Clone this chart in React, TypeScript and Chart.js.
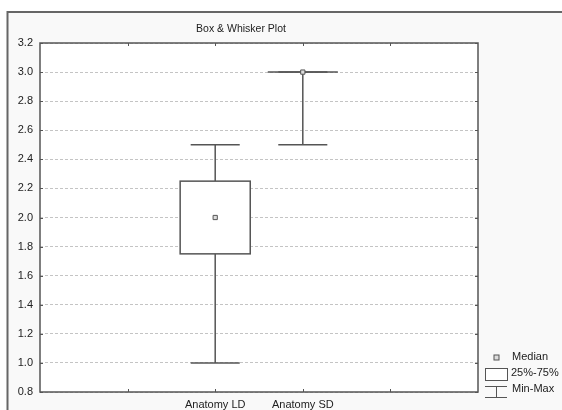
import React, { useEffect, useRef } from "react";
import { Chart, registerables } from "chart.js";

Chart.register(...registerables);

const categories = ["Anatomy LD", "Anatomy SD"];
const minValues = [1.0, 2.5];
const q1Values = [1.75, 3.0];
const medianValues = [2.0, 3.0];
const q3Values = [2.25, 3.0];
const maxValues = [2.5, 3.0];
const yTicks = [0.8, 1.0, 1.2, 1.4, 1.6, 1.8, 2.0, 2.2, 2.4, 2.6, 2.8, 3.0, 3.2];
const legendLabels = ["Median", "25%-75%", "Min-Max"];
const titleText = "Box & Whisker Plot";
const X_OFFSET = 2; // categories sit at x = 2, 3 on a 0..5 axis

const FONT = "'Liberation Sans', Arial, sans-serif";
const LINE = "#555";

const boxPlugin = {
  id: "boxPlugin",
  beforeDraw(chart: any) {
    const { ctx, chartArea: a, width, height } = chart;
    ctx.save();
    ctx.fillStyle = "#ffffff";
    ctx.fillRect(0, 0, width, height);
    ctx.fillStyle = "#f9f9f9";
    ctx.fillRect(8, 12, width - 8, height - 12);
    ctx.strokeStyle = "#666";
    ctx.lineWidth = 2;
    ctx.beginPath();
    ctx.moveTo(width + 2, 12);
    ctx.lineTo(7.5, 12);
    ctx.lineTo(7.5, height + 2);
    ctx.stroke();
    ctx.fillStyle = "#ffffff";
    ctx.fillRect(a.left, a.top, a.right - a.left, a.bottom - a.top);
    ctx.restore();
  },
  beforeDatasetsDraw(chart: any) {
    const { ctx } = chart;
    const xs = chart.scales.x;
    const ys = chart.scales.y;
    const unit = xs.getPixelForValue(1) - xs.getPixelForValue(0);
    const boxW = unit * 0.8;
    const capW = unit * 0.56;
    ctx.save();
    ctx.strokeStyle = LINE;
    ctx.lineWidth = 1.5;
    categories.forEach((_, i) => {
      const cx = xs.getPixelForValue(i + X_OFFSET);
      const yMin = ys.getPixelForValue(minValues[i]);
      const yMax = ys.getPixelForValue(maxValues[i]);
      const yQ1 = ys.getPixelForValue(q1Values[i]);
      const yQ3 = ys.getPixelForValue(q3Values[i]);
      ctx.beginPath();
      ctx.moveTo(cx, yMax);
      ctx.lineTo(cx, yQ3);
      ctx.moveTo(cx, yQ1);
      ctx.lineTo(cx, yMin);
      ctx.moveTo(cx - capW / 2, yMax);
      ctx.lineTo(cx + capW / 2, yMax);
      ctx.moveTo(cx - capW / 2, yMin);
      ctx.lineTo(cx + capW / 2, yMin);
      ctx.stroke();
      const top = Math.min(yQ1, yQ3);
      const h = Math.abs(yQ1 - yQ3);
      if (h > 0.5) {
        ctx.fillStyle = "#ffffff";
        ctx.fillRect(cx - boxW / 2, top, boxW, h);
        ctx.strokeRect(cx - boxW / 2, top, boxW, h);
      } else {
        ctx.beginPath();
        ctx.moveTo(cx - boxW / 2, top);
        ctx.lineTo(cx + boxW / 2, top);
        ctx.stroke();
      }
    });
    ctx.restore();
  },
  afterDraw(chart: any) {
    const { ctx, chartArea: a } = chart;
    const xs = chart.scales.x;
    const ys = chart.scales.y;
    ctx.save();
    ctx.strokeStyle = LINE;
    ctx.lineWidth = 1.5;
    ctx.strokeRect(a.left, a.top, a.right - a.left, a.bottom - a.top);
    ctx.lineWidth = 1;
    ctx.beginPath();
    for (let v = 1; v <= 4; v++) {
      const px = Math.round(xs.getPixelForValue(v)) + 0.5;
      ctx.moveTo(px, a.bottom);
      ctx.lineTo(px, a.bottom - 3);
      ctx.moveTo(px, a.top);
      ctx.lineTo(px, a.top + 3);
    }
    yTicks.forEach((t) => {
      const py = Math.round(ys.getPixelForValue(t)) + 0.5;
      ctx.moveTo(a.left, py);
      ctx.lineTo(a.left + 3, py);
      ctx.moveTo(a.right, py);
      ctx.lineTo(a.right - 3, py);
    });
    ctx.stroke();
    ctx.fillStyle = "#222";
    ctx.font = `10.5px ${FONT}`;
    ctx.textAlign = "center";
    ctx.textBaseline = "middle";
    ctx.fillText(titleText, 241, 29);
    ctx.textAlign = "left";
    ctx.font = `11px ${FONT}`;
    const lx = 496;
    ctx.strokeStyle = LINE;
    ctx.lineWidth = 1;
    ctx.fillStyle = "#ddd";
    ctx.fillRect(lx - 2, 357 - 2, 5, 5);
    ctx.strokeRect(lx - 2, 357 - 2, 5, 5);
    ctx.fillStyle = "#fff";
    ctx.fillRect(lx - 11, 368, 22, 12);
    ctx.strokeRect(lx - 11 + 0.5, 368.5, 22, 12);
    ctx.beginPath();
    ctx.moveTo(lx - 11, 386.5);
    ctx.lineTo(lx + 11, 386.5);
    ctx.moveTo(lx + 0.5, 386.5);
    ctx.lineTo(lx + 0.5, 397);
    ctx.moveTo(lx - 11, 397.5);
    ctx.lineTo(lx + 11, 397.5);
    ctx.stroke();
    ctx.fillStyle = "#222";
    ctx.textBaseline = "middle";
    ctx.fillText(legendLabels[0], 512, 357);
    ctx.fillText(legendLabels[1], 511, 373);
    ctx.fillText(legendLabels[2], 512, 389);
    ctx.restore();
  },
};

export default function App() {
  const ref = useRef<HTMLCanvasElement | null>(null);
  useEffect(() => {
    document.body.style.margin = "0";
    if (!ref.current) return;
    const chart = new Chart(ref.current, {
      type: "scatter",
      data: {
        datasets: [
          {
            label: "Median",
            data: medianValues.map((m, i) => ({ x: i + X_OFFSET, y: m })),
            pointStyle: "rect",
            pointRadius: 3,
            pointHoverRadius: 3,
            borderColor: LINE,
            backgroundColor: "#ddd",
            borderWidth: 1,
          },
        ],
      },
      options: {
        animation: false,
        responsive: false,
        devicePixelRatio: 1,
        layout: { padding: { top: 43, right: 84, left: 0, bottom: 0 } },
        plugins: {
          legend: { display: false },
          tooltip: { enabled: false },
          title: { display: false },
        },
        scales: {
          x: {
            type: "linear",
            min: 0,
            max: 5,
            afterFit: (s: any) => {
              s.height = 18;
            },
            afterBuildTicks: (s: any) => {
              s.ticks = [0, 1, 2, 3, 4, 5].map((v) => ({ value: v }));
            },
            ticks: {
              autoSkip: false,
              maxRotation: 0,
              padding: 6,
              color: "#222",
              font: { family: FONT, size: 11 },
              callback: (v: any) => {
                const idx = Number(v) - X_OFFSET;
                return categories[idx] ?? "";
              },
            },
            grid: { display: false, drawTicks: false },
            border: { display: false },
          },
          y: {
            type: "linear",
            min: 0.8,
            max: 3.2,
            afterFit: (s: any) => {
              s.width = 40;
            },
            afterBuildTicks: (s: any) => {
              s.ticks = yTicks.map((v) => ({ value: v }));
            },
            ticks: {
              padding: 7,
              color: "#222",
              font: { family: FONT, size: 11 },
              callback: (v: any) => Number(v).toFixed(1),
            },
            grid: { color: "#c4c4c4", drawTicks: false, lineWidth: 1 },
            border: { display: false, dash: [3, 2] },
          },
        },
      },
      plugins: [boxPlugin],
    });
    return () => chart.destroy();
  }, []);
  return <canvas ref={ref} width={562} height={410} style={{ display: "block" }} />;
}
